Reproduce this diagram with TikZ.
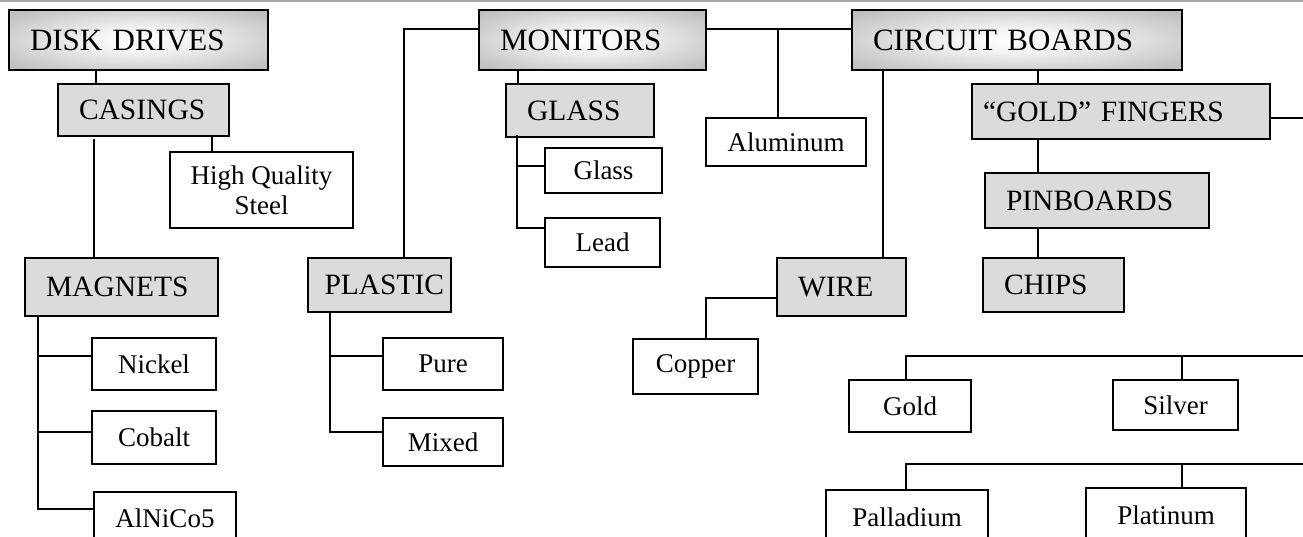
\documentclass[tikz,border=0pt]{standalone}
\usepackage{fontspec}
\setmainfont{Liberation Serif}
\pgfdeclareradialshading{hdrglow}{\pgfpoint{0bp}{0bp}}{color(0bp)=(white); color(10bp)=(black!5); color(50bp)=(black!40)}
\tikzset{
  topblk/.style={draw,line width=2.3pt,shading=hdrglow,anchor=north west,outer sep=0pt,inner xsep=21pt,inner ysep=0pt,minimum height=60pt,align=left,font=\fontsize{31}{33}\selectfont},
  subblk/.style={draw,line width=2.1pt,fill=black!14,anchor=north west,outer sep=0pt,inner xsep=21pt,inner ysep=0pt,align=left,font=\fontsize{29.5}{31}\selectfont},
  leafblk/.style={draw,line width=2pt,fill=white,anchor=north west,outer sep=0pt,inner sep=0pt,align=center,font=\fontsize{27}{30}\selectfont},
  link/.style={line width=1.9pt}
}

\begin{document}
\begin{tikzpicture}[x=1pt, y=-1pt]
  \useasboundingbox (0,0) rectangle (1303,537);
  \clip (0,0) rectangle (1303,537);
  \draw[black!35, line width=1.5pt] (0,1) -- (1303,1);

  % Top level
  \node[topblk, text width=217pt] (disk) at (9,10) {DISK DRIVES};
  \node[topblk, text width=185pt] (mon) at (479,10) {MONITORS};
  \node[topblk, text width=288pt] (circ) at (852,10) {CIRCUIT BOARDS};

  % Disk drives branch
  \node[subblk, text width=129pt, minimum height=52pt] (casings) at (58,84) {CASINGS};
  \node[leafblk, minimum width=183pt, minimum height=76pt] (steel) at (170,152) {High Quality\\Steel};
  \node[subblk, text width=151pt, minimum height=58pt] (magnets) at (25,258) {MAGNETS};
  \node[leafblk, minimum width=124pt, minimum height=52pt] (nickel) at (92,338) {Nickel};
  \node[leafblk, minimum width=124pt, minimum height=53pt] (cobalt) at (92,411) {Cobalt};
  \node[leafblk, minimum width=142pt, minimum height=52pt] (alnico) at (94,492) {AlNiCo5};

  \draw[link] ([xshift=87pt]disk.south west) -- ([xshift=38pt]casings.north west);
  \draw[link] ([xshift=154pt]casings.south west) -- ([xshift=42pt]steel.north west);
  \draw[link] ([xshift=36pt,yshift=-3pt]casings.south west) -- ([xshift=69pt]magnets.north west);
  \foreach \leaf/\dy in {nickel/8, cobalt/5.5, alnico/9}
    \draw[link] ([xshift=13pt]magnets.south west) |- ([yshift=\dy]\leaf.west);

  % Monitors branch
  \node[subblk, text width=106pt, minimum height=53pt] (glass) at (506,84) {GLASS};
  \node[leafblk, minimum width=117pt, minimum height=45pt] (glassleaf) at (545,148) {Glass};
  \node[leafblk, minimum width=115pt, minimum height=49pt] (lead) at (545,218) {Lead};
  \node[leafblk, minimum width=160pt, minimum height=48pt] (alum) at (706,118) {Aluminum};
  \node[subblk, text width=110pt, inner xsep=16.5pt, minimum height=54pt] (plastic) at (308,258) {PLASTIC};
  \node[leafblk, minimum width=120pt, minimum height=52pt] (pure) at (383,338) {Pure};
  \node[leafblk, minimum width=120pt, minimum height=48pt] (mixed) at (383,418) {Mixed};

  \draw[link] ([xshift=39pt]mon.south west) -- ([xshift=12pt]glass.north west);
  \foreach \leaf/\dy in {glassleaf/4.5, lead/14.5}
    \draw[link] ([xshift=11pt,yshift=2pt]glass.south west) |- ([yshift=\dy]\leaf.west);
  \draw[link] ([yshift=-19pt]mon.north west) -| ([xshift=96pt]plastic.north west);
  \foreach \leaf/\dy in {pure/8, mixed/10}
    \draw[link] ([xshift=22pt]plastic.south west) |- ([yshift=\dy]\leaf.west);
  \draw[link] ([yshift=-19pt]mon.north east) -- ([yshift=-19pt]circ.north west);
  \draw[link] ([xshift=72pt,yshift=-19pt]mon.north east) -- ([xshift=-8pt]alum.north);

  % Circuit boards branch
  \node[subblk, text width=276pt, inner xsep=11pt, minimum height=55pt] (fingers) at (972,84) {“GOLD” FINGERS};
  \node[subblk, text width=182pt, minimum height=55pt] (pinb) at (985,173) {PINBOARDS};
  \node[subblk, text width=99pt, minimum height=54pt] (chips) at (983,258) {CHIPS};
  \node[subblk, text width=87pt, minimum height=58pt] (wire) at (777,258) {WIRE};
  \node[leafblk, minimum width=125pt, minimum height=55pt] (copper) at (633,339) {Copper};
  \node[leafblk, minimum width=122pt, minimum height=52pt] (gold) at (849,380) {Gold};
  \node[leafblk, minimum width=125pt, minimum height=50pt] (silver) at (1113,380) {Silver};
  \node[leafblk, minimum width=162pt, minimum height=54pt] (pallad) at (826,490) {Palladium};
  \node[leafblk, minimum width=160pt, minimum height=54pt] (platin) at (1086,488) {Platinum};
  \coordinate (fingersout) at (1320,118);
  \coordinate (rowgold) at (1320,356);
  \coordinate (rowplat) at (1320,464);

  \draw[link] ([xshift=186pt]circ.south west) -- ([xshift=66pt]fingers.north west);
  \draw[link] ([xshift=66pt]fingers.south west) -- ([xshift=53pt]pinb.north west);
  \draw[link] ([xshift=53pt]pinb.south west) -- ([xshift=55pt]chips.north west);
  \draw[link] (fingers.east |- fingersout) -- (fingersout);
  \draw[link] ([xshift=31pt]circ.south west) -- ([xshift=106pt]wire.north west);
  \draw[link] ([yshift=-11pt]wire.west) -| ([xshift=10.5pt]copper.north);
  \draw[link] (rowgold) -| ([xshift=-4pt]gold.north);
  \draw[link] ([xshift=6.5pt]silver.north) |- (rowgold);
  \draw[link] (rowplat) -| ([xshift=-1pt]pallad.north);
  \draw[link] ([xshift=16pt]platin.north) |- (rowplat);
\end{tikzpicture}
\end{document}
